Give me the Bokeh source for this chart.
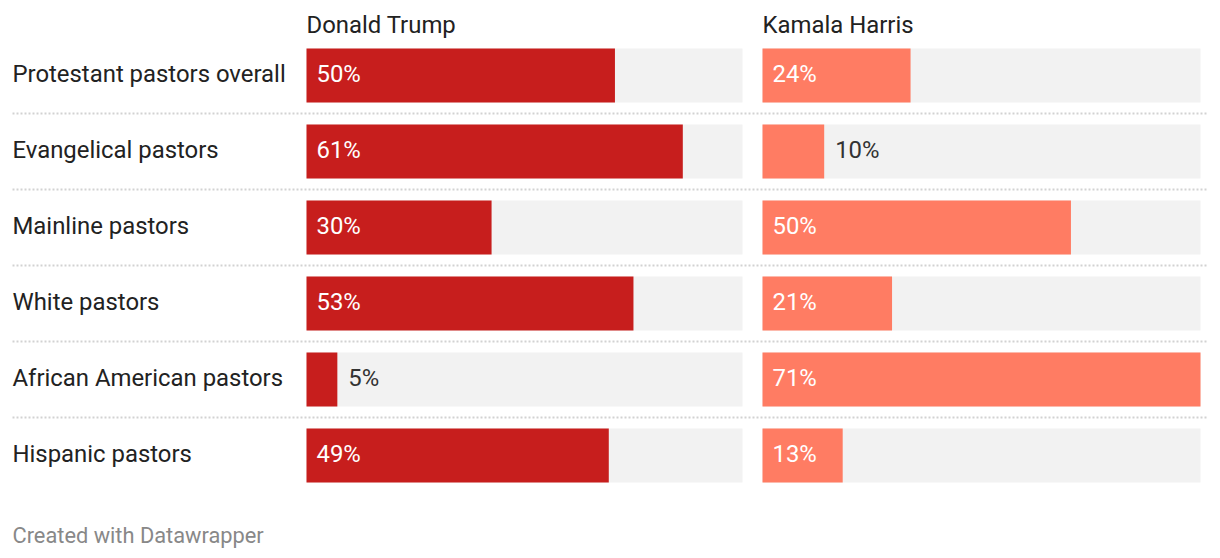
from bokeh.plotting import figure
from bokeh.models import Range1d, ColumnDataSource
from bokeh.core.properties import value
from bokeh.embed import file_html
from bokeh.resources import INLINE

# ---- data ----
categories = ["Protestant pastors overall", "Evangelical pastors", "Mainline pastors",
              "White pastors", "African American pastors", "Hispanic pastors"]
trump = [50, 61, 30, 53, 5, 49]
harris = [24, 10, 50, 21, 71, 13]
panel_titles = ["Donald Trump", "Kamala Harris"]
footer = "Created with Datawrapper"

# ---- layout constants (pixels) ----
W, H = 1220, 558
X0 = 306            # left edge of first panel
PX = 438 / 71       # pixels per percentage point
ROW = 76            # pixels per row
Y0 = 75             # centre of first row
BAR_H = 54
H_OFF = (762 - X0) / PX
T_BG = 436 / PX
H_BG = 438 / PX
TXT_DY = -2         # text nudge (pixels)

def px(v):
    return v / PX

FONT = "Roboto"
FS = "23.9px"
rows = list(range(len(categories)))

p = figure(width=W, height=H, output_backend="svg", toolbar_location=None,
           x_range=Range1d(-X0 / PX, (W - X0) / PX),
           y_range=Range1d((H - Y0) / ROW, -Y0 / ROW),
           min_border=0, outline_line_color=None, background_fill_color="white",
           border_fill_color="white")
p.axis.visible = False
p.grid.visible = False

bh = BAR_H / ROW

# backgrounds
p.hbar(y=rows, left=0, right=T_BG, height=bh, fill_color="#f2f2f2", line_color=None)
p.hbar(y=rows, left=H_OFF, right=H_OFF + H_BG, height=bh, fill_color="#f2f2f2", line_color=None)

# bars
p.hbar(y=rows, left=0, right=trump, height=bh, fill_color="#c71e1d", line_color=None)
p.hbar(y=rows, left=H_OFF, right=[H_OFF + v for v in harris], height=bh,
       fill_color="#ff7c63", line_color=None)

# separators
sep_y = [r + 0.5 for r in rows[:-1]]
p.segment(x0=px(12 - X0), x1=px(1208 - X0), y0=sep_y, y1=sep_y,
          line_color="#d2d2d2", line_width=2, line_dash="2 2")

# category labels
p.text(x=px(12 - X0), y=rows, text=categories, text_baseline="middle",
       y_offset=TXT_DY, text_font=value(FONT), text_font_size=FS, text_color="#222222")

# value labels
def labels(vals, offset):
    xs, ts, cs = [], [], []
    for v in vals:
        if v * PX > 70:
            xs.append(offset + px(10))
            cs.append("#ffffff")
        else:
            xs.append(offset + v + px(11))
            cs.append("#333333")
        ts.append(f"{v}%")
    return ColumnDataSource(dict(x=xs, y=rows, t=ts, c=cs))

for vals, off in ((trump, 0), (harris, H_OFF)):
    p.text(x="x", y="y", text="t", text_color="c", source=labels(vals, off),
           text_baseline="middle", y_offset=TXT_DY, text_font=value(FONT), text_font_size=FS)

# panel titles
p.text(x=[0, H_OFF], y=[(24 - Y0) / ROW] * 2, text=panel_titles, text_baseline="middle",
       text_font=value(FONT), text_font_size=FS, text_color="#222222")

# footer
p.text(x=[px(12 - X0)], y=[(535 - Y0) / ROW], text=[footer], text_baseline="middle",
       text_font=value(FONT), text_font_size="21.8px", text_color="#888888")

open("out.html", "w").write(file_html(p, INLINE))
